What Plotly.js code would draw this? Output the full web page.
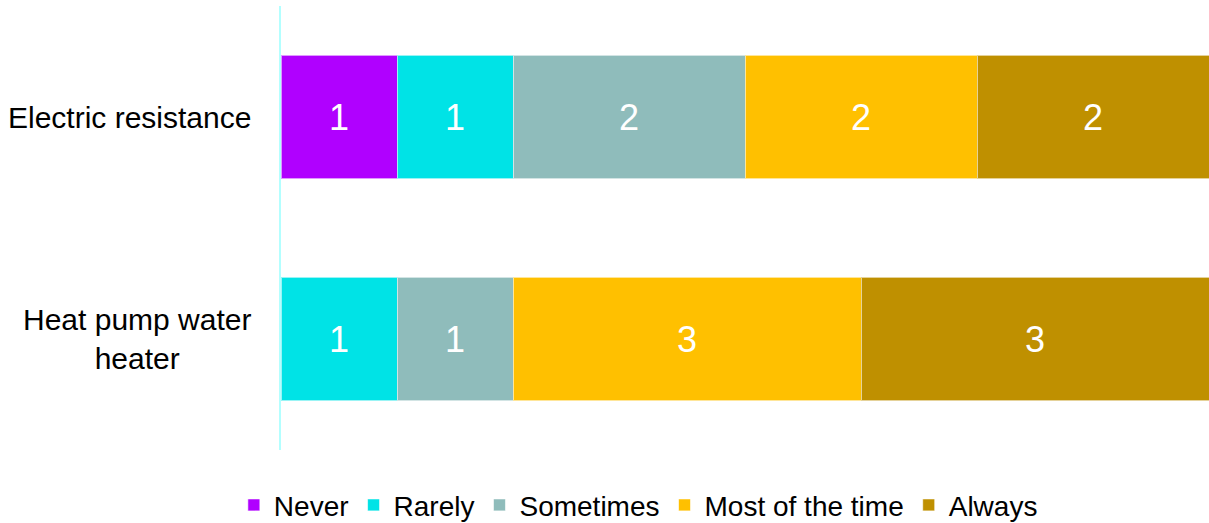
<!DOCTYPE html>
<html>
<head>
<meta charset="utf-8">
<script src="https://cdn.plot.ly/plotly-3.0.1.min.js"></script>
<style>html,body{margin:0;padding:0;background:#fff;}#chart{width:1209px;height:523px;}</style>
</head>
<body>
<div id="chart"></div>
<script>
const categories = ['Electric resistance', 'Heat pump water heater'];
const categoryLabels = ['Electric resistance', 'Heat pump water<br>heater'];
const seriesNames = ['Never', 'Rarely', 'Sometimes', 'Most of the time', 'Always'];
const never = [1, 0];
const rarely = [1, 1];
const sometimes = [2, 1];
const mostOfTheTime = [2, 3];
const always = [2, 3];
const seriesColors = ['#B000FF', '#00E3E6', '#8FBCBB', '#FFC000', '#BF9000'];

const seriesValues = [never, rarely, sometimes, mostOfTheTime, always];
const FONT = 'Liberation Sans, Arial, sans-serif';

const traces = seriesNames.map((name, i) => ({
  type: 'bar',
  orientation: 'h',
  name: name,
  y: categories,
  x: seriesValues[i].map(v => v === 0 ? null : v),
  text: seriesValues[i].map(v => v === 0 ? '' : String(v)),
  textposition: 'inside',
  insidetextanchor: 'middle',
  textangle: 0,
  constraintext: 'none',
  textfont: {family: FONT, size: 36, color: '#FFFFFF'},
  marker: {color: seriesColors[i], line: {color: 'rgba(255,255,255,0.6)', width: 1}},
  width: 0.555,
  hoverinfo: 'x+name'
}));

const annotations = categories.map((c, i) => ({
  xref: 'paper', yref: 'y',
  x: 0, y: c,
  xanchor: 'right', yanchor: 'middle',
  xshift: -28,
  text: categoryLabels[i],
  align: 'center',
  showarrow: false,
  font: {family: FONT, size: 30, color: '#000000'}
}));

const layout = {
  width: 1209, height: 523,
  margin: {l: 281, r: 0, t: 6, b: 73},
  barmode: 'stack',
  bargap: 0,
  paper_bgcolor: '#FFFFFF',
  plot_bgcolor: '#FFFFFF',
  font: {family: FONT, size: 30, color: '#000000'},
  xaxis: {
    range: [0, 8],
    showgrid: false, zeroline: false, showticklabels: false, ticks: '',
    showline: false, fixedrange: true
  },
  yaxis: {
    type: 'category',
    categoryorder: 'array', categoryarray: categories,
    autorange: 'reversed',
    showticklabels: false, ticks: '', showgrid: false, zeroline: false,
    showline: true, linecolor: '#B3FFFF', linewidth: 2, mirror: false
  },
  showlegend: true,
  legend: {
    orientation: 'h',
    xref: 'container', yref: 'container',
    x: 0.528, xanchor: 'center',
    y: 0.034, yanchor: 'middle',
    font: {family: FONT, size: 28, color: '#000000'},
    traceorder: 'normal',
    itemclick: false
  },
  annotations: annotations
};

Plotly.newPlot('chart', traces, layout, {displayModeBar: false, staticPlot: true});
</script>
</body>
</html>
